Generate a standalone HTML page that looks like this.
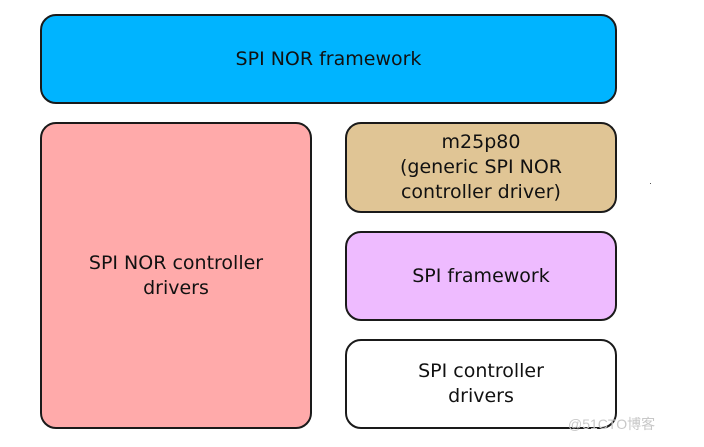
<!DOCTYPE html>
<html><head><meta charset="utf-8"><style>
body{margin:0;width:704px;height:447px;background:#fff;position:relative;overflow:hidden;font-family:"DejaVu Sans","Liberation Sans",sans-serif;}
.b{position:absolute;box-sizing:border-box;border:2px solid #1a1a1a;border-radius:16px;display:flex;align-items:center;justify-content:center;text-align:center;font-size:19px;line-height:25px;color:#111;}
.w{position:absolute;left:568px;top:414px;font-size:14px;color:#c8c8c8;font-family:"Liberation Sans","Noto Sans CJK SC",sans-serif;}
</style></head><body>
<div class="b" style="left:40px;top:14px;width:577px;height:90px;background:#00b4ff">SPI NOR framework</div>
<div class="b" style="left:40px;top:122px;width:272px;height:307px;background:#ffaaaa">SPI NOR controller<br>drivers</div>
<div class="b" style="left:345px;top:122px;width:272px;height:91px;background:#e0c595">m25p80<br>(generic SPI NOR<br>controller driver)</div>
<div class="b" style="left:345px;top:231px;width:272px;height:90px;background:#eebbff">SPI framework</div>
<div class="b" style="left:345px;top:339px;width:272px;height:90px;background:#fff">SPI controller<br>drivers</div>
<div class="w">@51CTO博客</div>
<div style="position:absolute;left:650px;top:183px;width:1px;height:1px;background:#555"></div>
</body></html>
